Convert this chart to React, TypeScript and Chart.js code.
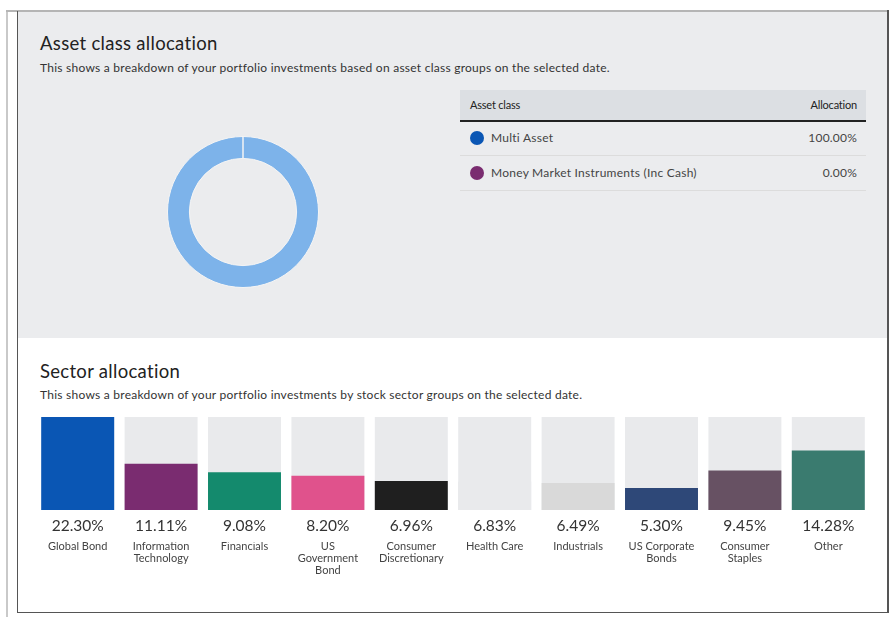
import React, { useEffect, useRef } from "react";
import { Chart, registerables } from "chart.js";

Chart.register(...registerables);

// ---------- data ----------
const assetClasses = ["Multi Asset", "Money Market Instruments (Inc Cash)"];
const assetValues = [100, 0];
const assetLegendColors = ["#0a56b4", "#7a2c70"];
const donutColors = ["#7db3ea", "#7a2c70"];

const sectorNames: string[][] = [
  ["Global Bond"],
  ["Information", "Technology"],
  ["Financials"],
  ["US", "Government", "Bond"],
  ["Consumer", "Discretionary"],
  ["Health Care"],
  ["Industrials"],
  ["US Corporate", "Bonds"],
  ["Consumer", "Staples"],
  ["Other"],
];
const sectorValues = [22.3, 11.11, 9.08, 8.2, 6.96, 6.83, 6.49, 5.3, 9.45, 14.28];
const sectorColors = [
  "#0a56b4",
  "#7a2c70",
  "#148a6d",
  "#e0528c",
  "#1f1f1f",
  "#e9eaec",
  "#d9d9d9",
  "#2e4878",
  "#675163",
  "#3a7b6f",
];
const trackColor = "#e9eaec";

const FONT = "Lato, 'Open Sans', sans-serif";

function Donut() {
  const ref = useRef<HTMLCanvasElement>(null);
  useEffect(() => {
    const chart = new Chart(ref.current!, {
      type: "doughnut",
      data: {
        labels: assetClasses,
        datasets: [
          {
            data: assetValues,
            backgroundColor: donutColors,
            borderColor: "#f4f4f4",
            borderWidth: 1,
          },
        ],
      },
      options: {
        responsive: false,
        animation: false,
        cutout: "71%",
        layout: { padding: 4 },
        plugins: { legend: { display: false }, tooltip: { enabled: false } },
      },
    });
    return () => chart.destroy();
  }, []);
  return (
    <canvas
      ref={ref}
      width={160}
      height={160}
      style={{ position: "absolute", left: 163, top: 132, width: 160, height: 160 }}
    />
  );
}

function Bars() {
  const ref = useRef<HTMLCanvasElement>(null);
  useEffect(() => {
    const max = Math.max(...sectorValues);
    const chart = new Chart(ref.current!, {
      type: "bar",
      data: {
        labels: sectorValues.map((v) => v.toFixed(2) + "%"),
        datasets: [
          {
            data: sectorValues,
            backgroundColor: sectorColors,
            categoryPercentage: 1,
            barPercentage: 0.875,
            borderWidth: 0,
            grouped: false,
            order: 0,
          },
          {
            data: sectorValues.map(() => max),
            backgroundColor: trackColor,
            categoryPercentage: 1,
            barPercentage: 0.875,
            borderWidth: 0,
            grouped: false,
            order: 1,
          },
        ],
      },
      options: {
        responsive: false,
        animation: false,
        layout: { padding: { left: 18, right: 17, top: 12, bottom: 19.7 } },
        plugins: { legend: { display: false }, tooltip: { enabled: false } },
        scales: {
          x: {
            position: "bottom",
            weight: 0,
            grid: { display: false, drawTicks: false },
            border: { display: false },
            ticks: {
              padding: 6.7,
              maxRotation: 0,
              autoSkip: false,
              color: "#333",
              font: { family: FONT, size: 15.5, lineHeight: 1.2 },
            },
          },
          x2: {
            type: "category",
            labels: sectorNames as any,
            position: "bottom",
            weight: 1,
            offset: true,
            grid: { display: false, drawTicks: false },
            border: { display: false },
            ticks: {
              padding: -1.5,
              maxRotation: 0,
              autoSkip: false,
              color: "#444",
              font: { family: FONT, size: 11, lineHeight: 1.1 },
            },
          },
          y: {
            display: false,
            min: 0,
            max: max,
          },
        },
      },
    });
    return () => chart.destroy();
  }, []);
  return (
    <canvas
      ref={ref}
      width={869}
      height={190}
      style={{ position: "absolute", left: 18, top: 405, width: 869, height: 190 }}
    />
  );
}

export default function App() {
  const abs = (s: React.CSSProperties): React.CSSProperties => ({ position: "absolute", ...s });
  return (
    <div
      style={{
        position: "absolute",
        left: 0,
        top: 0,
        width: 891,
        height: 617,
        background: "#fff",
        fontFamily: FONT,
        overflow: "hidden",
      }}
    >
      {/* outer light frame */}
      <div style={abs({ left: 6, top: 10, width: 2, height: 607, background: "#c9c9c9" })} />
      <div style={abs({ left: 6, top: 10, width: 882, height: 2, background: "#b5b5b5" })} />
      {/* grey top section */}
      <div style={abs({ left: 18, top: 12, width: 870, height: 326, background: "#ebecee" })} />
      {/* dark frame */}
      <div style={abs({ left: 17, top: 11, width: 1, height: 602, background: "#555" })} />
      <div style={abs({ left: 887, top: 10, width: 2, height: 603, background: "#555" })} />
      <div style={abs({ left: 17, top: 612, width: 872, height: 1, background: "#555" })} />

      {/* asset class section */}
      <div style={abs({ left: 40, top: 32, fontSize: 18.5, letterSpacing: 0.3, color: "#222", whiteSpace: "nowrap" })}>
        Asset class allocation
      </div>
      <div style={abs({ left: 40, top: 60, fontSize: 12, letterSpacing: 0.25, color: "#333", whiteSpace: "nowrap" })}>
        This shows a breakdown of your portfolio investments based on asset class groups on the selected date.
      </div>
      <Donut />

      {/* table */}
      <div style={abs({ left: 460, top: 90, width: 406, height: 30, background: "#dcdfe3" })} />
      <div style={abs({ left: 470, top: 98, fontSize: 11, color: "#222", letterSpacing: -0.2 })}>Asset class</div>
      <div style={abs({ left: 700, top: 98, width: 157, textAlign: "right", fontSize: 11, color: "#222", letterSpacing: -0.2 })}>
        Allocation
      </div>
      <div style={abs({ left: 460, top: 120, width: 406, height: 2, background: "#222" })} />
      {assetClasses.map((name, i) => {
        const cy = 138 + i * 35;
        return (
          <React.Fragment key={name}>
            <div
              style={abs({
                left: 470,
                top: cy - 7,
                width: 14,
                height: 14,
                borderRadius: 7,
                background: assetLegendColors[i],
              })}
            />
            <div style={abs({ left: 491, top: cy - 8, fontSize: 12, letterSpacing: 0.25, color: "#444", whiteSpace: "nowrap" })}>{name}</div>
            <div style={abs({ left: 700, top: cy - 8, width: 157, textAlign: "right", fontSize: 12, letterSpacing: 0.2, color: "#444" })}>
              {assetValues[i].toFixed(2)}%
            </div>
            <div style={abs({ left: 460, top: cy + 17, width: 406, height: 1, background: "#dcdcdc" })} />
          </React.Fragment>
        );
      })}

      {/* sector section */}
      <div style={abs({ left: 40, top: 360, fontSize: 18.5, letterSpacing: 0.3, color: "#222", whiteSpace: "nowrap" })}>
        Sector allocation
      </div>
      <div style={abs({ left: 40, top: 387, fontSize: 12, letterSpacing: 0.25, color: "#333", whiteSpace: "nowrap" })}>
        This shows a breakdown of your portfolio investments by stock sector groups on the selected date.
      </div>
      <Bars />
    </div>
  );
}
